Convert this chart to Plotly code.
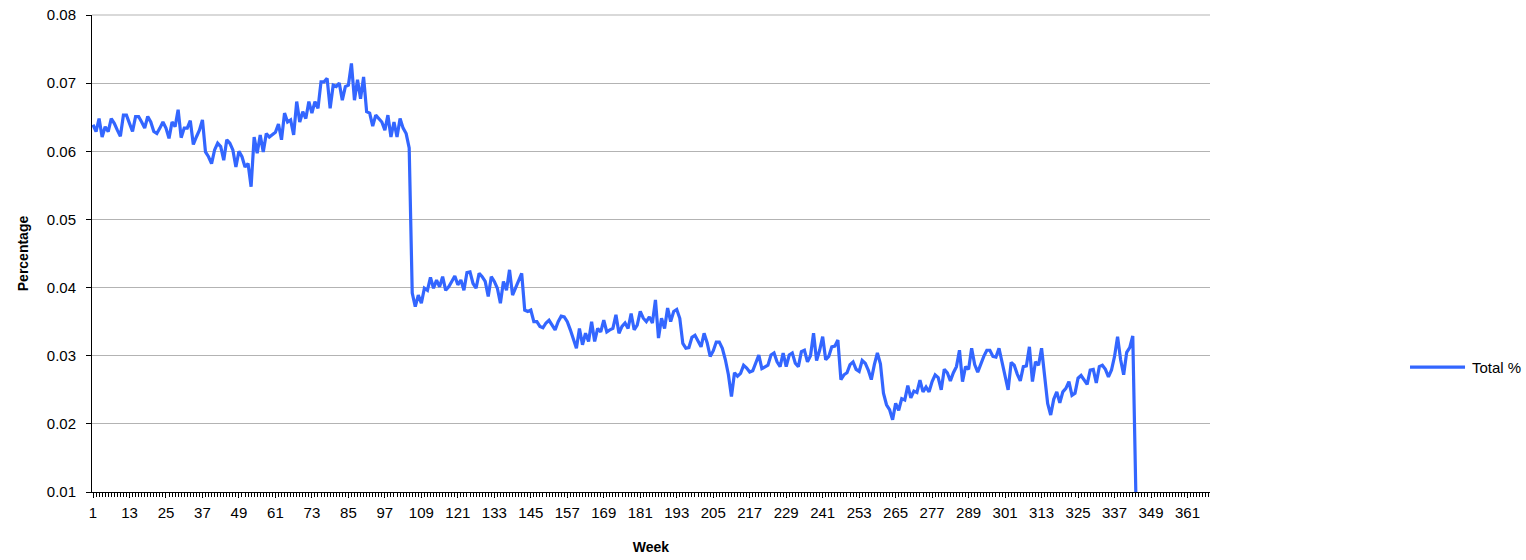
import plotly.graph_objects as go

# ---- data ----
vals_001_031 = [0.0639, 0.0629, 0.0648, 0.0621, 0.0636, 0.0629, 0.0648, 0.0641, 0.0631, 0.0622, 0.0653, 0.0653, 0.0641, 0.0629, 0.0651, 0.0651, 0.0643, 0.0634, 0.0651, 0.0643, 0.0629, 0.0626, 0.0634, 0.0643, 0.0634, 0.0619, 0.0643, 0.0636, 0.0661, 0.0620, 0.0634]
vals_032_062 = [0.0634, 0.0645, 0.0610, 0.0621, 0.0631, 0.0646, 0.0599, 0.0592, 0.0582, 0.0602, 0.0612, 0.0607, 0.0587, 0.0617, 0.0612, 0.0602, 0.0577, 0.0600, 0.0592, 0.0577, 0.0582, 0.0548, 0.0621, 0.0597, 0.0624, 0.0599, 0.0626, 0.0621, 0.0624, 0.0628, 0.0640]
vals_063_093 = [0.0617, 0.0656, 0.0643, 0.0646, 0.0624, 0.0673, 0.0643, 0.0658, 0.0648, 0.0673, 0.0656, 0.0673, 0.0663, 0.0702, 0.0702, 0.0707, 0.0663, 0.0697, 0.0695, 0.0700, 0.0675, 0.0695, 0.0697, 0.0729, 0.0675, 0.0705, 0.0677, 0.0709, 0.0658, 0.0656, 0.0637]
vals_094_105 = [0.0653, 0.0648, 0.0643, 0.0631, 0.0653, 0.0621, 0.0643, 0.0621, 0.0648, 0.0634, 0.0626, 0.0605]
vals_106_123 = [0.0392, 0.0372, 0.0389, 0.0377, 0.0399, 0.0396, 0.0415, 0.0399, 0.0411, 0.0401, 0.0416, 0.0396, 0.0401, 0.0409, 0.0417, 0.0404, 0.0411, 0.0396]
vals_124_156 = [0.0422, 0.0423, 0.0406, 0.0399, 0.0421, 0.0416, 0.0409, 0.0387, 0.0416, 0.0409, 0.0399, 0.0377, 0.0409, 0.0396, 0.0426, 0.0389, 0.0399, 0.0409, 0.0421, 0.0367, 0.0365, 0.0367, 0.0350, 0.0350, 0.0343, 0.0341, 0.0348, 0.0352, 0.0345, 0.0338, 0.0350, 0.0358, 0.0357]
vals_157_185 = [0.0350, 0.0338, 0.0326, 0.0311, 0.0340, 0.0316, 0.0333, 0.0321, 0.0350, 0.0321, 0.0340, 0.0335, 0.0352, 0.0335, 0.0338, 0.0340, 0.0360, 0.0333, 0.0343, 0.0348, 0.0340, 0.0362, 0.0338, 0.0345, 0.0365, 0.0355, 0.0350, 0.0357, 0.0348]
vals_186_219 = [0.0382, 0.0326, 0.0355, 0.0340, 0.0370, 0.0350, 0.0365, 0.0368, 0.0355, 0.0318, 0.0311, 0.0312, 0.0327, 0.0330, 0.0322, 0.0313, 0.0333, 0.0319, 0.0299, 0.0307, 0.0320, 0.0320, 0.0311, 0.0294, 0.0272, 0.0240, 0.0275, 0.0270, 0.0274, 0.0286, 0.0282, 0.0276, 0.0278, 0.0291]
vals_220_249 = [0.0301, 0.0281, 0.0284, 0.0286, 0.0301, 0.0304, 0.0291, 0.0284, 0.0304, 0.0284, 0.0301, 0.0304, 0.0289, 0.0284, 0.0306, 0.0308, 0.0291, 0.0300, 0.0333, 0.0293, 0.0308, 0.0328, 0.0294, 0.0299, 0.0313, 0.0314, 0.0323, 0.0265, 0.0272, 0.0275]
vals_250_279 = [0.0287, 0.0291, 0.0280, 0.0277, 0.0293, 0.0289, 0.0279, 0.0265, 0.0287, 0.0304, 0.0288, 0.0245, 0.0228, 0.0221, 0.0206, 0.0230, 0.0220, 0.0237, 0.0235, 0.0256, 0.0238, 0.0248, 0.0246, 0.0264, 0.0247, 0.0254, 0.0247, 0.0262, 0.0272, 0.0268]
vals_280_309 = [0.0250, 0.0280, 0.0275, 0.0263, 0.0275, 0.0284, 0.0308, 0.0262, 0.0284, 0.0280, 0.0311, 0.0287, 0.0276, 0.0289, 0.0299, 0.0308, 0.0308, 0.0299, 0.0298, 0.0311, 0.0291, 0.0269, 0.0250, 0.0290, 0.0286, 0.0273, 0.0263, 0.0284, 0.0285, 0.0313]
vals_310_344 = [0.0262, 0.0291, 0.0286, 0.0311, 0.0272, 0.0230, 0.0213, 0.0236, 0.0247, 0.0231, 0.0247, 0.0252, 0.0262, 0.0242, 0.0245, 0.0267, 0.0271, 0.0264, 0.0258, 0.0279, 0.0280, 0.0260, 0.0284, 0.0286, 0.0280, 0.0269, 0.0279, 0.0299, 0.0328, 0.0294, 0.0272, 0.0305, 0.0312, 0.0329, 0.0100]

total_pct = (vals_001_031 + vals_032_062 + vals_063_093 + vals_094_105 + vals_106_123
             + vals_124_156 + vals_157_185 + vals_186_219 + vals_220_249 + vals_250_279
             + vals_280_309 + vals_310_344)
weeks = list(range(1, len(total_pct) + 1))

x_tick_labels = [1, 13, 25, 37, 49, 61, 73, 85, 97, 109, 121, 133, 145, 157, 169, 181,
                 193, 205, 217, 229, 241, 253, 265, 277, 289, 301, 313, 325, 337, 349, 361]
y_tick_values = [0.01, 0.02, 0.03, 0.04, 0.05, 0.06, 0.07, 0.08]

series_name = "Total %"
x_title = "Week"
y_title = "Percentage"

FONT = "Liberation Sans, Arial, Helvetica, sans-serif"
LINE_COLOR = "#3366ff"
LINE_W = 3.2
GRID_COLOR = "#b3b3b3"

fig = go.Figure()
fig.add_trace(go.Scatter(
    x=weeks, y=total_pct, mode="lines", name=series_name,
    line=dict(color=LINE_COLOR, width=LINE_W), showlegend=False,
))

# top gridline (plotly skips gridlines that sit on the plot edge)
fig.add_shape(type="line", xref="paper", yref="paper", x0=0, x1=1, y0=1, y1=1,
              line=dict(color=GRID_COLOR, width=1), layer="below")

# legend key drawn to the right of the plot (paper coordinates)
leg_y = 0.262
fig.add_shape(type="line", xref="paper", yref="paper",
              x0=1.1789, x1=1.2281, y0=leg_y, y1=leg_y,
              line=dict(color=LINE_COLOR, width=LINE_W))
fig.add_annotation(xref="paper", yref="paper", x=1.2327, y=leg_y,
                   xanchor="left", yanchor="middle", showarrow=False,
                   text=series_name, font=dict(size=15, color="black"))

fig.update_layout(
    width=1526, height=560,
    margin=dict(l=92, r=316, t=15, b=68, autoexpand=False),
    paper_bgcolor="white", plot_bgcolor="white",
    font=dict(family=FONT, size=15, color="black"),
    showlegend=False,
)

fig.update_xaxes(
    automargin=False,
    range=[0.67, 368.4],
    tickmode="array", tickvals=x_tick_labels, ticktext=[str(v) for v in x_tick_labels],
    ticks="outside", ticklen=5, tickcolor="black",
    ticklabelstandoff=2,
    ticklabeloverflow="allow",
    minor=dict(dtick=1, tick0=1, ticks="outside", ticklen=4, tickcolor="black", showgrid=False),
    showgrid=False, zeroline=False,
    showline=True, linecolor="black", linewidth=1,
    tickfont=dict(size=15),
    title=dict(text="<b>" + x_title + "</b>", font=dict(size=14), standoff=22),
)

fig.update_yaxes(
    automargin=False,
    range=[0.01, 0.08],
    tickmode="array", tickvals=y_tick_values, ticktext=[f"{v:.2f}" for v in y_tick_values],
    ticks="outside", ticklen=5, tickcolor="black",
    ticklabelstandoff=7,
    ticklabeloverflow="allow",
    showgrid=True, gridcolor=GRID_COLOR, gridwidth=1,
    zeroline=False,
    showline=True, linecolor="black", linewidth=1,
    tickfont=dict(size=15),
    title=dict(text="<b>" + y_title + "</b>", font=dict(size=14), standoff=14),
)

# remove the default 8px page margin so the figure sits at the window's top-left
fig.write_html("out.html", config={"displayModeBar": False},
               post_script="document.body.style.margin='0';")
